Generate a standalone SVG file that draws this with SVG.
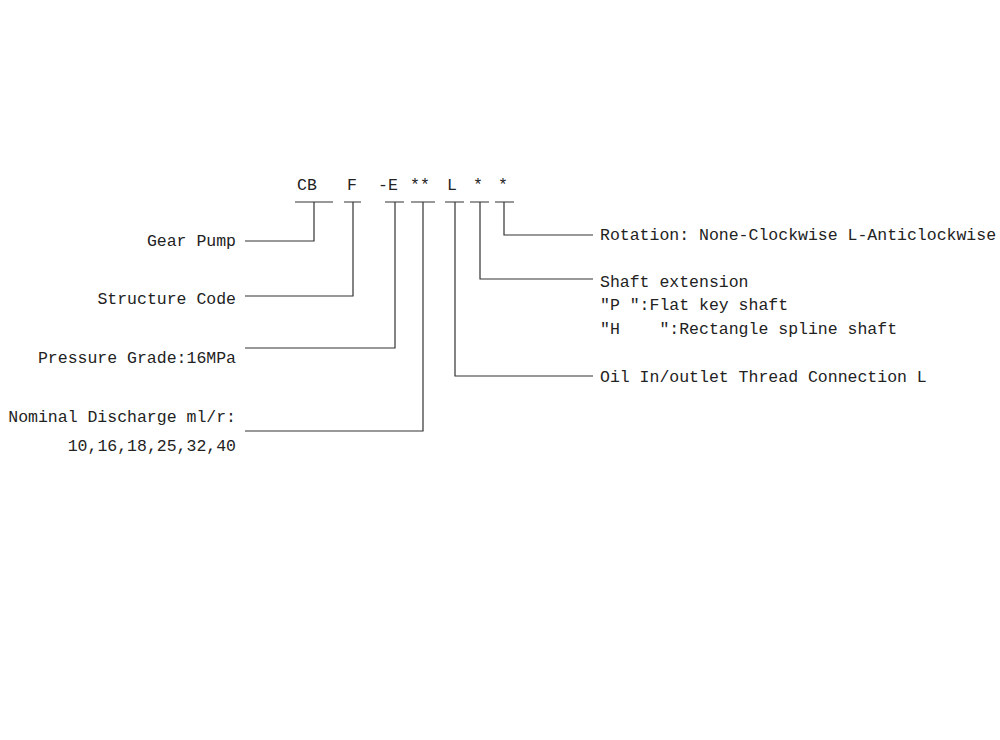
<svg xmlns="http://www.w3.org/2000/svg" width="1000" height="740" viewBox="0 0 1000 740">
<style>
text{font-family:"Liberation Mono","DejaVu Sans Mono",monospace;font-size:16.5px;fill:#222;white-space:pre}
.end{text-anchor:end}
.c{fill:none;stroke:#333;stroke-width:1.2}
</style>
<rect width="1000" height="740" fill="#fff"/>
<g id="code">
<text x="297" y="190">CB</text>
<text x="347" y="190">F</text>
<text x="378" y="190">-E</text>
<text x="410" y="190">**</text>
<text x="447" y="190">L</text>
<text x="473" y="190">*</text>
<text x="498" y="190">*</text>
</g>
<g id="gear-pump"><text class="end" x="236" y="246">Gear Pump</text></g>
<g id="structure-code"><text class="end" x="236" y="304">Structure Code</text></g>
<g id="pressure-grade"><text class="end" x="236" y="363">Pressure Grade:16MPa</text></g>
<g id="nominal-discharge">
<text class="end" x="236" y="422">Nominal Discharge ml/r:</text>
<text class="end" x="236" y="451">10,16,18,25,32,40</text>
</g>
<g id="rotation"><text x="600" y="240">Rotation: None-Clockwise L-Anticlockwise</text></g>
<g id="shaft-extension">
<text x="600" y="287">Shaft extension</text>
<text x="600" y="310">″P ″:Flat key shaft</text>
<text x="600" y="334">″H    ″:Rectangle spline shaft</text>
</g>
<g id="oil-thread"><text x="600" y="382">Oil In/outlet Thread Connection L</text></g>
<g id="connectors">
<path class="c" d="M295 202H333M314 202V241H245"/>
<path class="c" d="M344 202H361M353 202V296H245"/>
<path class="c" d="M385 202H404M395 202V348H245"/>
<path class="c" d="M411 202H435M423 202V431H245"/>
<path class="c" d="M445 202H464M455 202V376H593"/>
<path class="c" d="M470 202H489M480 202V279H593"/>
<path class="c" d="M495 202H514M504 202V235H593"/>
</g>
</svg>
